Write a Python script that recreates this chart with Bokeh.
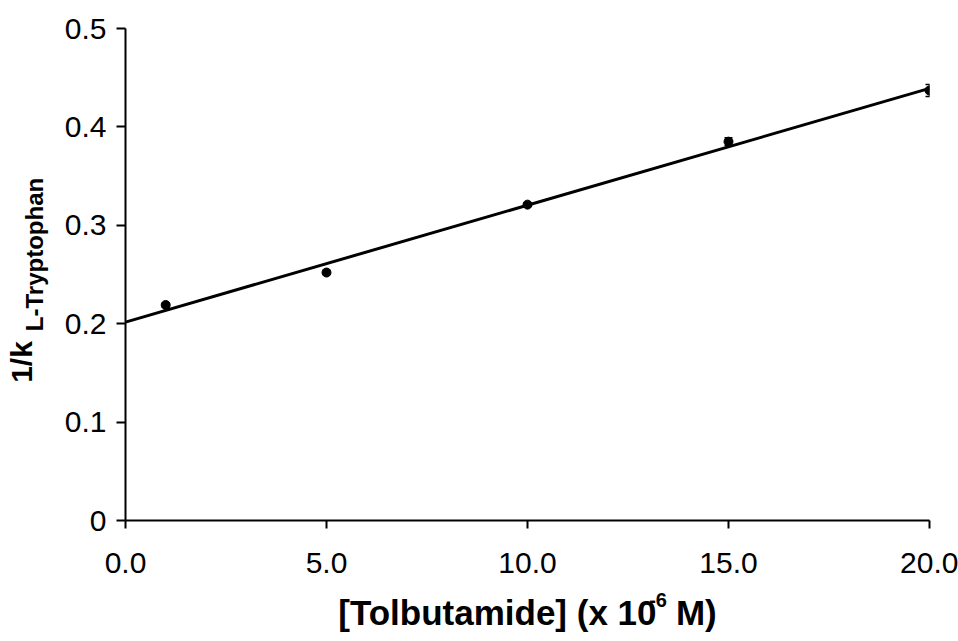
import numpy as np
from bokeh.plotting import figure
from bokeh.models import Range1d, FixedTicker, NumeralTickFormatter, LinearAxis
from bokeh.embed import file_html
from bokeh.resources import INLINE

# ---- data ----
conc = [1.0, 5.0, 10.0, 15.0, 20.0]          # [Tolbutamide] (x 10^-6 M)
inv_k = [0.219, 0.252, 0.321, 0.385, 0.437]   # 1/k L-Tryptophan
err = [0.002, 0.002, 0.002, 0.004, 0.006]
x_ticks = [0, 5, 10, 15, 20]
y_ticks = [0, 0.1, 0.2, 0.3, 0.4, 0.5]

x_title_main = "[Tolbutamide] (x 10"
x_title_sup = "-6"
x_title_end = "M)"
y_title_main = "1/k"
y_title_sub = "L-Tryptophan"

FONT = "Liberation Sans"
NB = "\u00a0"
W, H = 958, 641
FRAME_L, FRAME_R, FRAME_T, FRAME_B = 125, 929, 28, 520
XMIN, XMAX, YMIN, YMAX = 0, 20, 0, 0.5

p = figure(width=W, height=H, output_backend="svg", toolbar_location=None,
           x_range=Range1d(XMIN, XMAX), y_range=Range1d(YMIN, YMAX),
           min_border_left=FRAME_L, min_border_right=W - FRAME_R,
           min_border_top=FRAME_T, min_border_bottom=H - FRAME_B)
p.outline_line_color = None
p.grid.visible = False
p.background_fill_color = "white"
p.border_fill_color = "white"

def style_title(ax, size):
    ax.axis_label_text_font = FONT
    ax.axis_label_text_font_size = size
    ax.axis_label_text_font_style = "bold"
    ax.axis_label_text_color = "black"

for ax in (p.xaxis[0], p.yaxis[0]):
    ax.axis_line_width = 2
    ax.axis_line_color = "black"
    ax.major_tick_line_width = 2
    ax.major_tick_line_color = "black"
    ax.major_tick_in = 0
    ax.minor_tick_line_color = None
    ax.major_label_text_font = FONT
    ax.major_label_text_font_size = "30px"
    ax.major_label_text_color = "black"

p.xaxis.ticker = FixedTicker(ticks=x_ticks)
p.xaxis.formatter = NumeralTickFormatter(format="0.0")
p.xaxis.major_tick_out = 8
p.xaxis.major_label_standoff = 24

p.yaxis.ticker = FixedTicker(ticks=y_ticks)
p.yaxis.formatter = NumeralTickFormatter(format="0.0")
p.yaxis.major_label_overrides = {0: "0"}
p.yaxis.major_tick_out = 9
p.yaxis.major_label_standoff = 10

# inner axis labels: superscript (x) and subscript (y)
p.xaxis[0].axis_label = NB * 47 + x_title_sup
style_title(p.xaxis[0], "20px")
p.xaxis[0].axis_label_standoff = 13

p.yaxis[0].axis_label = NB * 6 + y_title_sub
style_title(p.yaxis[0], "24px")
p.yaxis[0].axis_label_standoff = 14

# outer, label-only axes carrying the main title text
def label_axis(text, size, standoff):
    ax = LinearAxis(ticker=FixedTicker(ticks=[]), axis_line_color=None,
                    major_tick_line_color=None, minor_tick_line_color=None,
                    major_tick_out=0, major_tick_in=0, minor_tick_out=0,
                    major_label_text_font_size="0px")
    ax.axis_label = text
    style_title(ax, size)
    ax.axis_label_standoff = standoff
    return ax

p.add_layout(label_axis(x_title_main + NB * 2 + x_title_end, "35px", -21), "below")
p.add_layout(label_axis(y_title_main + NB * 21, "30px", -20), "left")

# regression line computed from data
slope, intercept = np.polyfit(conc, inv_k, 1)
lx = [XMIN, XMAX]
ly = [intercept + slope * v for v in lx]
p.line(lx, ly, line_color="black", line_width=3)

lo = [a - e for a, e in zip(inv_k, err)]
hi = [a + e for a, e in zip(inv_k, err)]
p.segment(x0=conc, y0=lo, x1=conc, y1=hi, line_color="black", line_width=1.5)
p.scatter(conc, lo, marker="dash", size=8, line_color="black", line_width=1.5)
p.scatter(conc, hi, marker="dash", size=8, line_color="black", line_width=1.5)
p.scatter(conc, inv_k, size=9, color="black")

open("out.html", "w").write(file_html(p, INLINE))
